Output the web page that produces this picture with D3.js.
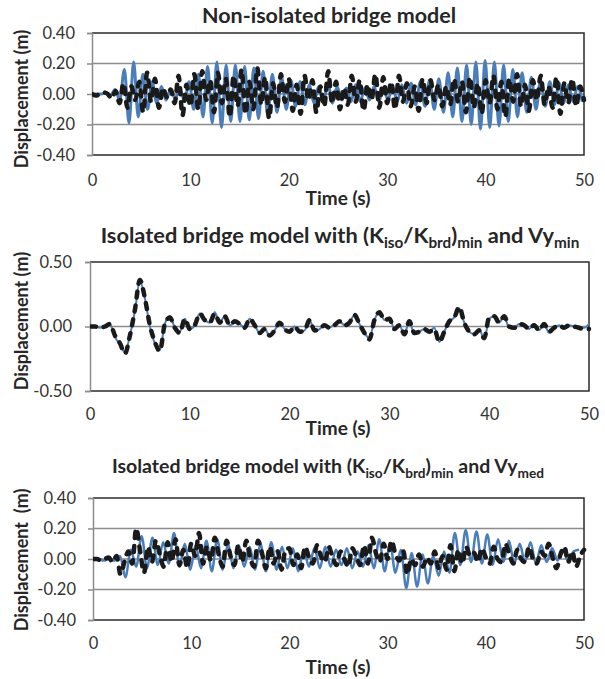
<!DOCTYPE html>
<html>
<head>
<meta charset="utf-8">
<script src="https://cdn.jsdelivr.net/npm/d3@7"></script>
<style>
  body { margin: 0; background: #fff; }
  text { font-family: Lato, "Open Sans", sans-serif; fill: #262626; }
</style>
</head>
<body>
<svg id="chart" width="605" height="679"></svg>
<script>
// ---- DATA ----
const timeTicks = [0, 10, 20, 30, 40, 50];

// panel 1 : non-isolated
const p1YTicks = [-0.4, -0.2, 0, 0.2, 0.4];
const p1BlueStep = 0.47;
const p1Blue = [
  0, 0, 0, 0.01, -0.01, 0.03, -0.04, 0.16, -0.19, 0.21,
  -0.15, 0.13, -0.10, 0.08, -0.06, 0.05, -0.04, 0.03, -0.03, 0.04,
  -0.05, 0.08, -0.10, 0.13, -0.15, 0.18, -0.19, 0.21, -0.22, 0.19,
  -0.18, 0.19, -0.18, 0.18, -0.17, 0.17, -0.16, 0.15, -0.14, 0.13,
  -0.12, 0.11, -0.10, 0.09, -0.08, 0.08, -0.07, 0.06, -0.06, 0.05,
  -0.06, 0.07, -0.06, 0.05, -0.04, 0.04, -0.05, 0.06, -0.05, 0.04,
  -0.04, 0.05, -0.05, 0.04, -0.04, 0.05, -0.05, 0.06, -0.06, 0.07,
  -0.07, 0.08, -0.08, 0.09, -0.10, 0.10, -0.12, 0.14, -0.15, 0.17,
  -0.18, 0.19, -0.20, 0.21, -0.23, 0.22, -0.22, 0.21, -0.21, 0.19,
  -0.18, 0.16, -0.15, 0.14, -0.12, 0.11, -0.10, 0.09, -0.08, 0.08,
  -0.07, 0.07, -0.06, 0.06, -0.05, 0.05, -0.05
];
const p1BlackStep = 0.4;
const p1Black = [
  0, -0.01, 0, 0.01, 0, -0.03, 0.02, -0.06, 0.07, -0.09,
  0.05, -0.04, 0.08, -0.12, 0.14, -0.05, 0.10, -0.09, 0.04, -0.02,
  0.03, -0.06, 0.12, -0.14, 0.06, -0.08, 0.13, -0.10, 0.15, -0.04,
  0.09, -0.12, 0.14, -0.06, 0.10, -0.15, 0.12, -0.08, 0.16, -0.13,
  0.08, -0.10, 0.17, -0.07, 0.11, -0.16, 0.07, -0.09, 0.13, -0.05,
  0.10, -0.11, 0.06, -0.13, 0.12, -0.04, 0.09, -0.12, 0.05, -0.08,
  0.15, -0.06, 0.08, -0.10, 0.04, -0.07, 0.12, -0.05, 0.09, -0.11,
  0.06, -0.04, 0.13, -0.09, 0.11, -0.06, 0.08, -0.10, 0.12, -0.05,
  0.07, -0.08, 0.05, -0.11, 0.10, -0.06, 0.09, -0.04, 0.06, -0.08,
  0.05, -0.07, 0.10, -0.05, 0.08, -0.12, 0.11, -0.09, 0.07, -0.13,
  0.09, -0.06, 0.12, -0.10, 0.08, -0.15, 0.10, -0.05, 0.13, -0.08,
  0.06, -0.11, 0.09, -0.04, 0.12, -0.07, 0.05, -0.09, 0.11, -0.13,
  0.07, -0.06, 0.10, -0.08, 0.05, -0.04
];

// panel 2 : isolated, Vy min
const p2YTicks = [-0.5, 0, 0.5];
const p2Step = 0.5;
const p2Blue = [
  0, 0, -0.01, 0, 0.02, -0.08, -0.14, -0.20, -0.07, 0.12,
  0.35, 0.22, 0.0, -0.13, -0.18, 0.02, 0.08, -0.01, -0.04, 0.06,
  -0.02, 0.01, 0.10, 0.05, 0.03, 0.11, 0.03, 0.08, 0.01, 0.03,
  0.02, -0.01, 0.06, 0.01, -0.05, -0.02, -0.07, -0.03, 0.03, -0.02,
  -0.04, 0.0, -0.04, -0.03, 0.05, -0.04, -0.02, 0.01, -0.01, 0.02,
  0.04, 0.01, 0.03, 0.09, 0.02, -0.05, -0.09, 0.05, 0.11, 0.05,
  0.07, -0.02, 0.01, -0.06, 0.04, -0.06, -0.04, -0.02, -0.04, -0.01,
  -0.12, -0.04, 0.04, 0.07, 0.14, 0.03, -0.04, -0.06, -0.02, -0.10,
  0.06, 0.08, 0.03, 0.08, -0.01, -0.01, 0.02, 0.01, -0.02, 0.02,
  -0.03, 0.02, -0.05, -0.01, 0.01, -0.01, 0.01, 0.0, -0.01, -0.01,
  0.02
];
const p2Black = [
  0, 0, -0.01, 0, 0.02, -0.07, -0.13, -0.21, -0.07, 0.13,
  0.36, 0.22, 0.01, -0.12, -0.19, 0.02, 0.07, -0.01, -0.05, 0.06,
  -0.02, 0.01, 0.10, 0.05, 0.03, 0.10, 0.03, 0.08, 0.01, 0.04,
  0.02, -0.01, 0.06, 0.01, -0.05, -0.02, -0.07, -0.03, 0.03, -0.02,
  -0.04, 0.0, -0.04, -0.03, 0.05, -0.03, -0.02, 0.01, -0.01, 0.01,
  0.04, 0.01, 0.03, 0.09, 0.02, -0.05, -0.10, 0.05, 0.11, 0.05,
  0.06, -0.02, 0.01, -0.06, 0.04, -0.05, -0.04, -0.02, -0.04, -0.02,
  -0.12, -0.04, 0.04, 0.07, 0.15, 0.03, -0.04, -0.06, -0.03, -0.09,
  0.07, 0.08, 0.03, 0.08, 0.0, -0.01, 0.02, 0.01, -0.02, 0.01,
  -0.03, 0.02, -0.04, -0.01, 0.01, -0.01, 0.01, 0.0, -0.01, -0.02,
  -0.02
];

// panel 3 : isolated, Vy med
const p3YTicks = [-0.4, -0.2, 0, 0.2, 0.4];
const p3BlueStep = 0.55;
const p3Blue = [
  0, 0, -0.01, 0.0, -0.01, 0.02, -0.12, 0.06, -0.05, 0.15,
  -0.06, 0.14, -0.04, 0.11, -0.03, 0.17, -0.05, 0.10, -0.07, 0.09,
  -0.06, 0.12, -0.08, 0.13, -0.07, 0.10, -0.06, 0.09, -0.05, 0.08,
  -0.07, 0.10, -0.08, 0.11, -0.07, 0.08, -0.06, 0.07, -0.08, 0.06,
  -0.05, 0.07, -0.06, 0.08, -0.05, 0.06, -0.04, 0.07, -0.06, 0.05,
  -0.05, 0.09, -0.06, 0.13, -0.08, 0.10, -0.09, 0.06, -0.19, 0.04,
  -0.18, 0.03, -0.16, 0.02, -0.11, 0.05, -0.09, 0.17, -0.04, 0.19,
  -0.02, 0.18, -0.03, 0.16, -0.04, 0.13, -0.02, 0.12, -0.03, 0.10,
  -0.02, 0.11, -0.03, 0.09, -0.02, 0.07, -0.01, 0.06, -0.02, 0.05,
  0.06
];
const p3BlackStep = 0.4;
const p3Black = [
  0, 0, -0.01, 0, 0.01, -0.02, 0.02, -0.10, -0.02, 0.05,
  -0.03, 0.20, 0.05, -0.09, 0.08, -0.02, 0.12, 0.03, -0.05, 0.11,
  -0.02, 0.13, -0.04, 0.06, -0.06, 0.10, 0.02, 0.17, -0.03, 0.08,
  -0.01, 0.14, 0.03, -0.05, 0.12, 0.02, -0.04, 0.09, -0.02, 0.12,
  0.01, -0.05, 0.12, 0.04, -0.06, 0.08, -0.03, 0.05, -0.07, 0.06,
  0.07, -0.04, 0.03, -0.06, 0.08, 0.01, -0.03, 0.09, 0.02, -0.02,
  0.08, 0.01, -0.04, 0.05, 0.00, -0.05, 0.07, 0.02, -0.04, 0.09,
  -0.03, 0.14, 0.04, -0.02, 0.10, 0.00, 0.12, 0.03, -0.01, 0.05,
  -0.10, 0.00, -0.04, 0.03, -0.05, 0.01, -0.03, 0.05, -0.06, 0.02,
  -0.07, 0.09, -0.08, 0.06, -0.03, 0.08, 0.02, 0.04, -0.02, 0.07,
  0.01, -0.03, 0.08, 0.00, -0.02, 0.10, 0.03, -0.03, 0.06, 0.00,
  -0.02, 0.08, 0.00, -0.03, 0.05, 0.02, 0.10, 0.01, -0.06, 0.03,
  0.08, -0.02, 0.05, -0.05, 0.02, 0.06
];

// ---- DRAWING ----
const svg = d3.select("#chart");
svg.append("rect").attr("width", 605).attr("height", 679).attr("fill", "#fff");

const blue = "#4a7ebb", gridCol = "#8c8c8c", frameCol = "#2b2b2b";

function drawPanel(o) {
  const x = d3.scaleLinear().domain([0, 50]).range([o.left, o.right]);
  const y = d3.scaleLinear().domain(d3.extent(o.yTicks)).range([o.bottom, o.top]);
  const g = svg.append("g");

  // gridlines
  g.selectAll("line.grid")
    .data(o.yTicks.slice(1, -1))
    .join("line")
    .attr("class", "grid")
    .attr("x1", o.left).attr("x2", o.right)
    .attr("y1", (d) => y(d)).attr("y2", (d) => y(d))
    .attr("stroke", gridCol).attr("stroke-width", 1.5);

  // frame: top, right, bottom
  g.append("path")
    .attr("d", `M${o.left},${o.top}H${o.right}V${o.bottom}H${o.left}`)
    .attr("fill", "none").attr("stroke", frameCol).attr("stroke-width", 1.5);

  // y axis
  const ya = g.append("g")
    .attr("transform", `translate(${o.left},0)`)
    .call(d3.axisLeft(y).tickValues(o.yTicks).tickFormat((d) => d.toFixed(2)).tickSize(5).tickPadding(o.yPad));
  ya.attr("font-size", 16.5);
  ya.select(".domain").attr("stroke", gridCol).attr("stroke-width", 1.5);
  ya.selectAll(".tick line").attr("stroke", gridCol).attr("stroke-width", 1.5);
  ya.selectAll(".tick text").style("fill", "#333");

  // x axis labels (no tick marks)
  const xa = g.append("g")
    .attr("transform", `translate(0,${o.bottom})`)
    .call(d3.axisBottom(x).tickValues(timeTicks).tickSize(0).tickPadding(o.xPad));
  xa.attr("font-size", 16.5);
  xa.select(".domain").remove();
  xa.selectAll(".tick text").style("fill", "#333");

  // series
  const clipId = "clip" + o.id;
  svg.append("clipPath").attr("id", clipId)
    .append("rect").attr("x", o.left).attr("y", o.top - 6)
    .attr("width", o.right - o.left + 4).attr("height", o.bottom - o.top + 12);

  const lineFor = (step) => d3.line()
    .x((d, i) => x(i * step))
    .y((d) => y(d))
    .curve(d3.curveMonotoneX);

  const s = g.append("g").attr("clip-path", `url(#${clipId})`);
  s.append("path").datum(o.blue)
    .attr("d", lineFor(o.blueStep))
    .attr("fill", "none").attr("stroke", blue)
    .attr("stroke-width", o.blueWidth).attr("stroke-linejoin", "round");
  s.append("path").datum(o.black)
    .attr("d", lineFor(o.blackStep))
    .attr("fill", "none").attr("stroke", "#1a1a1a")
    .attr("stroke-width", 4.5).attr("stroke-linecap", "round")
    .attr("stroke-linejoin", "round").attr("stroke-dasharray", "6,8");

  // y title
  svg.append("text")
    .attr("transform", `translate(${o.yTitleX},${o.yTitleY}) rotate(-90)`)
    .attr("text-anchor", "middle").attr("dy", "0.35em")
    .attr("font-size", 18).attr("font-weight", "bold")
    .style("white-space", "pre")
    .text(o.yTitle);

  // x title
  svg.append("text")
    .attr("x", o.xTitleX).attr("y", o.xTitleY)
    .attr("text-anchor", "middle")
    .attr("font-size", 19).attr("font-weight", "bold")
    .text("Time (s)");

  // main title with subscripts (relative dy so it stays one text chunk)
  const t = svg.append("text")
    .attr("x", o.titleX).attr("y", o.titleY)
    .attr("text-anchor", "middle")
    .attr("font-size", o.titleSize).attr("font-weight", "bold")
    .style("white-space", "pre");
  const shift = o.titleSize * 0.24;
  let down = false;
  o.title.forEach(([str, sub]) => {
    const ts = t.append("tspan").text(str);
    if (sub && !down) { ts.attr("dy", shift); down = true; }
    else if (!sub && down) { ts.attr("dy", -shift); down = false; }
    if (sub) ts.attr("font-size", o.titleSize * 0.7);
  });
}

drawPanel({
  id: 1, left: 92, right: 584, top: 33, bottom: 155,
  yTicks: p1YTicks, yPad: 12, xPad: 19,
  blue: p1Blue, blueStep: p1BlueStep, blueWidth: 3,
  black: p1Black, blackStep: p1BlackStep,
  yTitle: "Displacement (m)", yTitleX: 22, yTitleY: 99,
  xTitleX: 338, xTitleY: 205,
  title: [["Non-isolated bridge model", false]],
  titleX: 329, titleY: 23, titleSize: 21.5
});

drawPanel({
  id: 2, left: 90, right: 589, top: 262, bottom: 391,
  yTicks: p2YTicks, yPad: 13, xPad: 17,
  blue: p2Blue, blueStep: p2Step, blueWidth: 2,
  black: p2Black, blackStep: p2Step,
  yTitle: "Displacement (m)", yTitleX: 22, yTitleY: 321,
  xTitleX: 338, xTitleY: 435,
  title: [["Isolated bridge model with (K", false], ["iso", true], ["/K", false], ["brd", true], [")", false], ["min", true], [" and Vy", false], ["min", true]],
  titleX: 340, titleY: 243, titleSize: 21.8
});

drawPanel({
  id: 3, left: 93, right: 584, top: 498, bottom: 620,
  yTicks: p3YTicks, yPad: 12, xPad: 17,
  blue: p3Blue, blueStep: p3BlueStep, blueWidth: 2.5,
  black: p3Black, blackStep: p3BlackStep,
  yTitle: "Displacement  (m)", yTitleX: 22, yTitleY: 560,
  xTitleX: 338, xTitleY: 674,
  title: [["Isolated bridge model with (K", false], ["iso", true], ["/K", false], ["brd", true], [")", false], ["min", true], [" and Vy", false], ["med", true]],
  titleX: 328, titleY: 473, titleSize: 19.5
});
</script>
</body>
</html>
